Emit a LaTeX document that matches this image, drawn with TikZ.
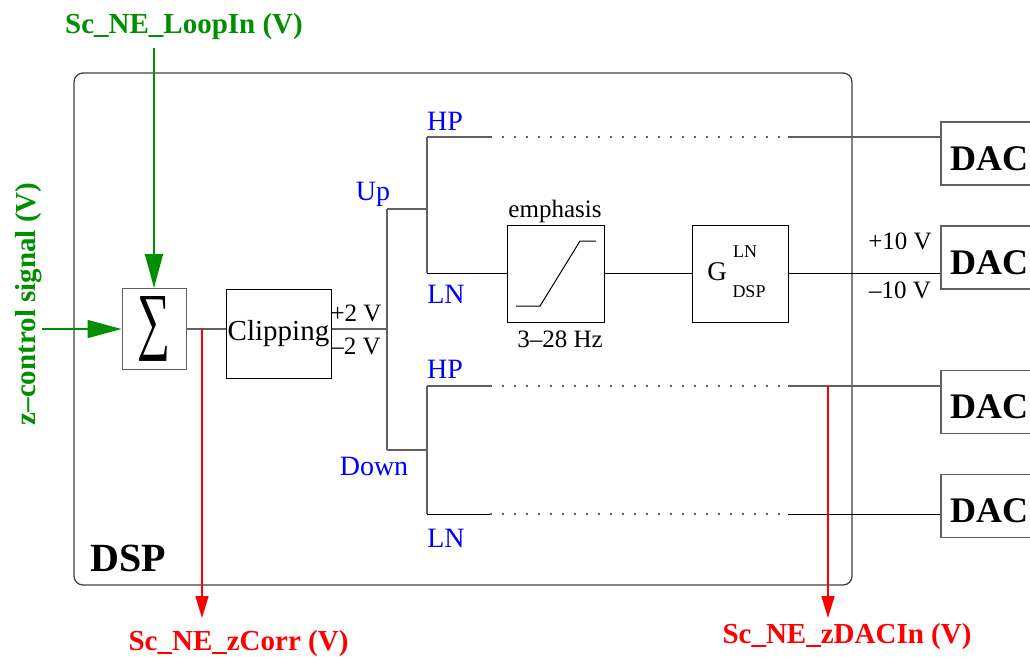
\documentclass[tikz,border=0pt]{standalone}
\usepackage{fontspec}
\setmainfont{Liberation Serif}
\usepackage{graphicx}
\usepackage{tikz}
\usetikzlibrary{arrows.meta,positioning,calc}
\definecolor{loopgreen}{HTML}{008F00}
\definecolor{tapred}{HTML}{FF0000}
\definecolor{chanblue}{HTML}{0000FF}
\definecolor{wiregrey}{HTML}{606060}
\definecolor{framegrey}{HTML}{404040}
\newcommand{\fsz}[1]{\fontsize{#1}{#1}\selectfont}
\tikzset{
  blk/.style={draw=#1, line width=1pt, inner sep=0pt, align=center},
  blk/.default=black,
  wire/.style={line width=1.3pt, draw=wiregrey},
  bwire/.style={line width=1pt, draw=black},
  dotwire/.style={line width=1.3pt, draw=wiregrey, dash pattern=on 1.5pt off 10.5pt},
  inflow/.style={-{Triangle[length=34pt,width=18pt]}, line width=1.6pt, draw=loopgreen},
  tapflow/.style={-{Triangle[length=22pt,width=13pt]}, line width=1.5pt, draw=tapred},
  sig/.style={font=\fsz{29}\bfseries, text=#1, inner sep=0pt, anchor=base},
  chan/.style={font=\fsz{28}, text=chanblue, inner sep=0pt, anchor=base},
  volt/.style={font=\fsz{25}, inner sep=0pt},
  dacbox/.style={draw=wiregrey, line width=1.3pt, minimum width=96pt, minimum height=63pt,
                 inner sep=0pt, font=\fsz{36}\bfseries, text height=33pt, text depth=0pt},
}

\begin{document}
\begin{tikzpicture}[x=1pt, y=-1pt]
\useasboundingbox (0,0) rectangle (1030,656);

% ========================= DSP frame =====================================
\node[draw=framegrey, line width=1.3pt, rounded corners=9pt, inner sep=0pt,
      minimum width=778pt, minimum height=512pt] at (463,329) (dsp) {};
\node[font=\fsz{40}\bfseries, anchor=south west, inner sep=0pt] at (90,572) (dsplbl) {DSP};

% ========================= sum and clipping ==============================
\node[blk=wiregrey, minimum width=64pt, minimum height=81pt] at (154,329) (sum)
     {\resizebox{33pt}{49pt}{∑}};
\node[blk, minimum width=105pt, minimum height=89pt, font=\fsz{29}] at (278.5,333.5) (clip) {Clipping};

\draw[wire] (sum.east) -- (clip.west |- sum.east);
\node[volt] at (356,313) (plustwo)  {+2 V};
\node[volt] at (356,346) (minustwo) {--2 V};

% the inputs
\coordinate (loopstart) at (154,48);
\coordinate (zstart)    at (42,329);
\draw[inflow] (loopstart) -- (sum.north);
\draw[inflow] (zstart) -- (sum.west);
\node[sig=loopgreen] at (184,33) (loopinlbl) {Sc\_NE\_LoopIn (V)};
\node[sig=loopgreen, rotate=90] at (35,304) (zctrllbl) {z--control signal (V)};

% ========================= splitter ======================================
\coordinate (bus)    at (387,329);
\coordinate (up)     at (387,209);
\coordinate (dn)     at (387,450);
\coordinate (upfork) at (427,209);
\coordinate (dnfork) at (427,450);
\coordinate (hpa)    at (427,137);
\coordinate (lna)    at (427,273);
\coordinate (hpb)    at (427,386);
\coordinate (lnb)    at (427,514);

\draw[wire] (clip.east |- bus) -- (bus);
\draw[wire] (up) -- (dn);
\draw[wire] (up) -- (upfork);  \draw[wire] (dn) -- (dnfork);
\draw[wire] (hpa) -- (lna);    \draw[wire] (hpb) -- (lnb);

\node[chan] at (373,200) (uplbl)  {Up};
\node[chan] at (374,475) (dnlbl)  {Down};
\node[chan] at (445,130) (hpalbl) {HP};
\node[chan] at (446,303) (lnalbl) {LN};
\node[chan] at (445,378) (hpblbl) {HP};
\node[chan] at (446,547) (lnblbl) {LN};

% ========================= LN chain of the up path =======================
\node[blk, minimum width=97pt, minimum height=97pt] at (555.5,273.5) (emph) {};
\draw[line width=1pt] ([shift={(-39.5,32.5)}]emph.center) -- ++(24,0) -- ++(40,-65) -- ++(16,0);
\node[font=\fsz{25}, inner sep=0pt, anchor=base] at (555,217) (emphlbl)  {emphasis};
\node[font=\fsz{25}, inner sep=0pt, anchor=base] at (560,347) (emphband) {3--28 Hz};

\node[blk, minimum width=96pt, minimum height=97pt] at (740,273.5) (gain) {};
\node[font=\fsz{27}, inner sep=0pt] at (717,272)   (gainG)   {G};
\node[font=\fsz{18}, inner sep=0pt] at (745,252)   (gainsup) {LN};
\node[font=\fsz{18}, inner sep=0pt] at (749,291.5) (gainsub) {DSP};

% ========================= DACs ==========================================
\foreach \name/\yc in {dac1/153.5, dac2/257.5, dac3/402, dac4/506}
  \node[dacbox] at (989,\yc) (\name) {DAC};

\draw[bwire] (lna) -- (emph.west |- lna);
\draw[bwire] (emph.east |- lna) -- (gain.west |- lna);
\draw[bwire] (gain.east |- lna) -- (dac2.west |- lna);
\node[volt] at (900,241) (plusten)  {+10 V};
\node[volt] at (900,290) (minusten) {--10 V};

\foreach \src/\dst/\ws in {hpa/dac1/wire, hpb/dac3/wire, lnb/dac4/bwire}{
  \draw[\ws] (\src) -- ++(63,0);
  \draw[dotwire] ([xshift=63pt]\src) -- ([xshift=361pt]\src);
  \draw[\ws] ([xshift=361pt]\src) -- (\dst.west |- \src);
}

% ========================= monitor taps ==================================
\coordinate (tapcorr)  at (202,329);
\coordinate (corrend)  at (202,618);
\coordinate (tapdacin) at (828,386);
\coordinate (dacinend) at (828,618);
\draw[tapflow] (tapcorr) -- (corrend);
\draw[tapflow] (tapdacin) -- (dacinend);
\node[sig=tapred] at (238.5,650) (corrlbl)  {Sc\_NE\_zCorr (V)};
\node[sig=tapred] at (847,643)   (dacinlbl) {Sc\_NE\_zDACIn (V)};
\end{tikzpicture}
\end{document}
